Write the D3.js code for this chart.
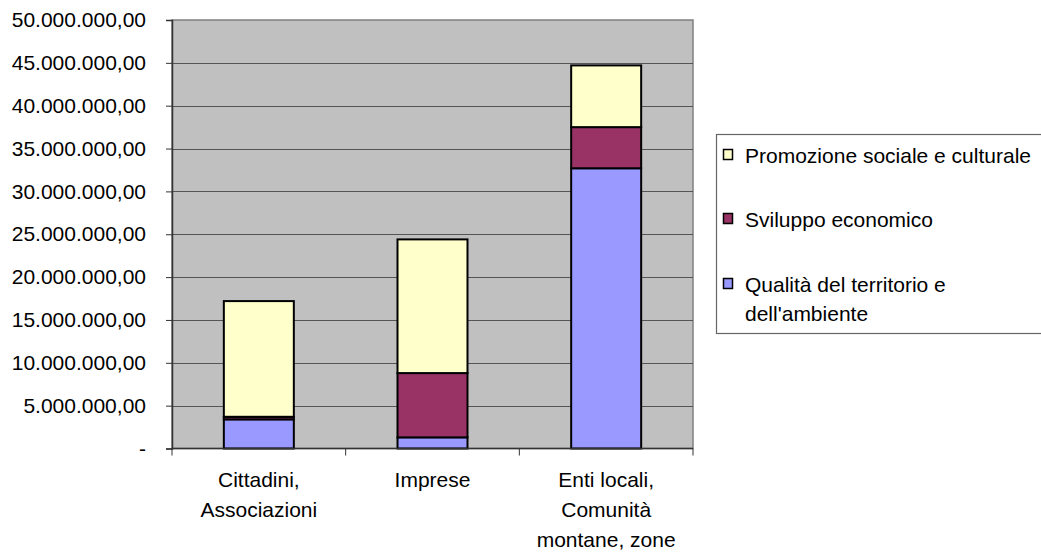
<!DOCTYPE html>
<html>
<head>
<meta charset="utf-8">
<script src="https://cdn.jsdelivr.net/npm/d3@7"></script>
<style>
  body { margin: 0; background: #fff; }
  svg { display: block; font-family: "Liberation Sans", Arial, sans-serif; }
</style>
</head>
<body>
<div class="chart"></div>
<script>
// categories (x axis) and the wrapped label lines shown under each
var categories = ["Cittadini, Associazioni", "Imprese", "Enti locali, Comunità montane, zone"];
var categoryLines = [["Cittadini,", "Associazioni"], ["Imprese"], ["Enti locali,", "Comunità", "montane, zone"]];

// series, bottom to top
var seriesNames = ["Qualità del territorio e dell'ambiente", "Sviluppo economico", "Promozione sociale e culturale"];
var qualita = [3400000, 1300000, 32700000];
var sviluppo = [300000, 7500000, 4800000];
var promozione = [13500000, 15600000, 7200000];
var seriesColors = ["#9999FF", "#993366", "#FFFFCC"];

var yTicks = [0, 5e6, 10e6, 15e6, 20e6, 25e6, 30e6, 35e6, 40e6, 45e6, 50e6];

var svgWidth = 1041, svgHeight = 552;
var plot = { left: 172, right: 693, top: 20, bottom: 448.5 };

var svg = d3.select(".chart").append("svg")
    .attr("width", svgWidth)
    .attr("height", svgHeight);

var it = d3.formatLocale({ decimal: ",", thousands: ".", grouping: [3], currency: ["€", ""] });
var fmt = it.format(",.2f");

var x = d3.scaleBand().domain(categories).range([plot.left, plot.right]).padding(0);
var y = d3.scaleLinear().domain([0, 50000000]).range([plot.bottom, plot.top]);

// plot background
svg.append("rect")
    .attr("x", plot.left).attr("y", plot.top)
    .attr("width", plot.right - plot.left).attr("height", plot.bottom - plot.top)
    .attr("fill", "#C0C0C0")
    .attr("stroke", "#808080").attr("stroke-width", 1.5);

// gridlines
svg.append("g").selectAll("line")
    .data(yTicks.slice(1, -1))
    .enter().append("line")
    .attr("x1", plot.left).attr("x2", plot.right)
    .attr("y1", d => Math.round(y(d)) + 0.5).attr("y2", d => Math.round(y(d)) + 0.5)
    .attr("stroke", "#555").attr("stroke-width", 1);

// stacked bars
var table = categories.map(function(c, i) {
  return { cat: c, q: qualita[i], s: sviluppo[i], p: promozione[i] };
});
var stack = d3.stack().keys(["q", "s", "p"])(table);
var barW = x.bandwidth() * 0.403;

svg.append("g").selectAll("g")
    .data(stack)
    .enter().append("g")
    .attr("fill", (d, i) => seriesColors[i])
    .selectAll("rect")
    .data(d => d)
    .enter().append("rect")
    .attr("x", d => x(d.data.cat) + (x.bandwidth() - barW) / 2)
    .attr("y", d => y(d[1]))
    .attr("width", barW)
    .attr("height", d => y(d[0]) - y(d[1]))
    .attr("stroke", "#000").attr("stroke-width", 2);

// y axis
var yAxis = d3.axisLeft(y).tickValues(yTicks).tickSize(6).tickPadding(20)
    .tickFormat(d => d === 0 ? "-" : fmt(d));
var gy = svg.append("g").attr("transform", `translate(${plot.left},0)`).call(yAxis);
gy.select(".domain").attr("stroke", "#333").attr("stroke-width", 1.5);
gy.selectAll(".tick line").attr("stroke", "#333");
gy.selectAll("text").attr("font-size", "21px").attr("fill", "#000")
    .attr("font-family", "'Liberation Sans', Arial, sans-serif");

// x axis line and ticks at category boundaries
svg.append("line")
    .attr("x1", plot.left).attr("x2", plot.right)
    .attr("y1", plot.bottom).attr("y2", plot.bottom)
    .attr("stroke", "#333").attr("stroke-width", 1.5);
var bounds = categories.map(c => x(c)).concat([plot.right]);
svg.append("g").selectAll("line")
    .data(bounds)
    .enter().append("line")
    .attr("x1", d => d).attr("x2", d => d)
    .attr("y1", plot.bottom).attr("y2", plot.bottom + 7)
    .attr("stroke", "#333").attr("stroke-width", 1);

// x labels
svg.append("g").selectAll("text")
    .data(categories)
    .enter().append("text")
    .attr("text-anchor", "middle")
    .attr("font-size", "21px")
    .attr("fill", "#000")
    .each(function(c, i) {
      var t = d3.select(this);
      categoryLines[i].forEach(function(line, j) {
        t.append("tspan")
          .attr("x", x(c) + x.bandwidth() / 2)
          .attr("y", 487 + j * 30)
          .text(line);
      });
    });

// legend
var legend = svg.append("g");
legend.append("rect")
    .attr("x", 716.5).attr("y", 134.5)
    .attr("width", 340).attr("height", 199)
    .attr("fill", "#fff").attr("stroke", "#666").attr("stroke-width", 1.2);

var legendItems = [
  { name: ["Promozione sociale e culturale"], color: seriesColors[2], y: 163 },
  { name: ["Sviluppo economico"], color: seriesColors[1], y: 227 },
  { name: ["Qualità del territorio e", "dell'ambiente"], color: seriesColors[0], y: 292 }
];
var li = legend.selectAll("g.item")
    .data(legendItems)
    .enter().append("g").attr("class", "item");
li.append("rect")
    .attr("x", 723.5).attr("y", d => d.y - 13.5)
    .attr("width", 9).attr("height", 10)
    .attr("fill", d => d.color)
    .attr("stroke", "#000").attr("stroke-width", 1.5);
li.append("text")
    .attr("font-size", "21px").attr("fill", "#000")
    .each(function(d) {
      var t = d3.select(this);
      d.name.forEach(function(line, j) {
        t.append("tspan").attr("x", 745).attr("y", d.y + j * 29).text(line);
      });
    });
</script>
</body>
</html>
